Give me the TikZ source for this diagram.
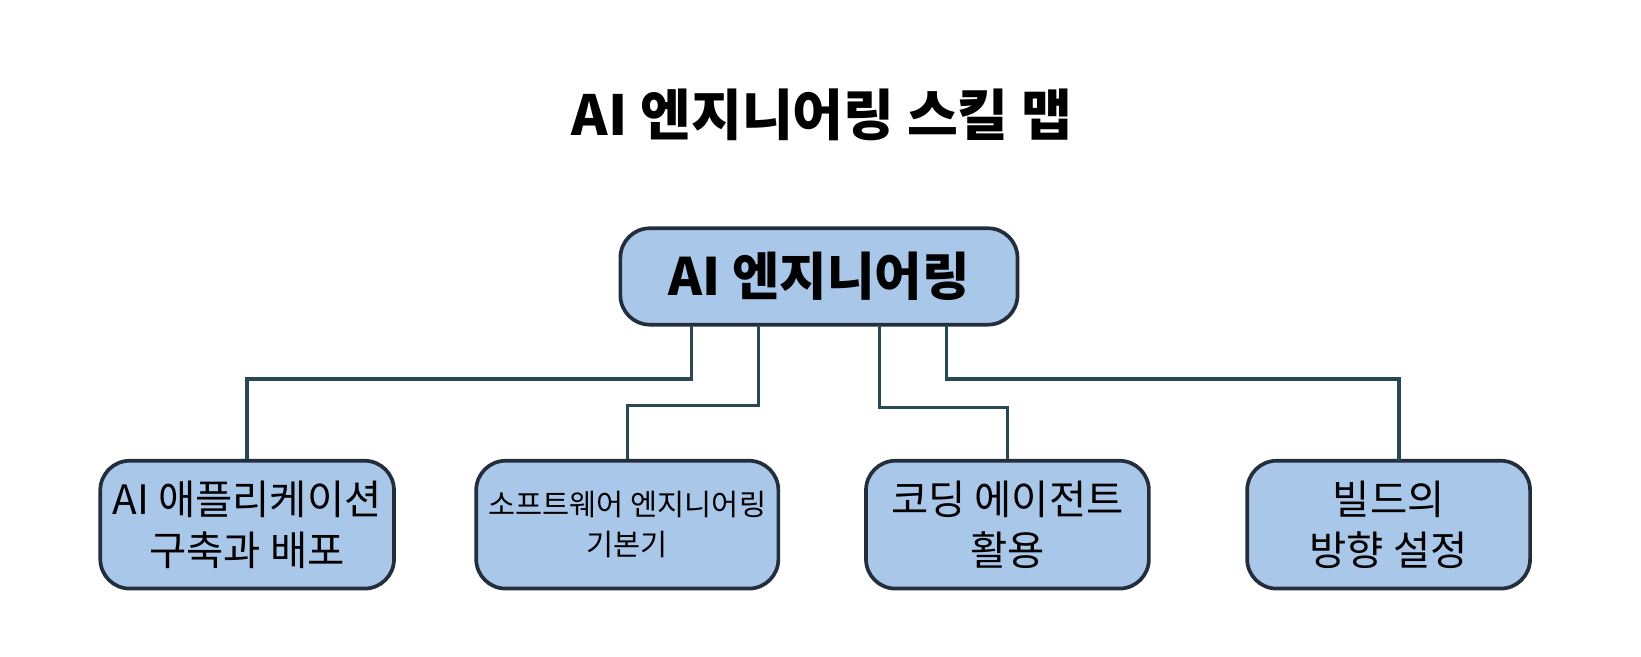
\documentclass[tikz,border=0pt]{standalone}
\usepackage{fontspec}
\setmainfont{Noto Sans CJK KR}
\usetikzlibrary{positioning}

\tikzset{
  skill/.style={draw={rgb,255:red,35;green,45;blue,60}, line width=1pt, rounded corners=8pt,
    fill={rgb,255:red,169;green,199;blue,232},
    minimum width=2.7cm, minimum height=1.22cm, align=center, font=\fontsize{11}{14}\selectfont},
  link/.style={draw={rgb,255:red,40;green,72;blue,82}, line width=0.9pt}
}

\begin{document}
\begin{tikzpicture}[x=0.01cm,y=-0.01cm]
        \node[font=\bfseries\fontsize{15}{18}\selectfont] (title) at (785,110) {AI 엔지니어링 스킬 맵};

        \node[skill, minimum width=3.79cm, minimum height=0.92cm,
          font=\bfseries\fontsize{14}{17}\selectfont] (root) at (782,264) {AI 엔지니어링};

        \node[skill] (app)  at (236,501) {AI 애플리케이션\\구축과 배포};
        \node[skill, font=\fontsize{8}{11}\selectfont] (sw) at (599,501) {소프트웨어 엔지니어링\\기본기};
        \node[skill] (code) at (962,501) {코딩 에이전트\\활용};
        \node[skill] (build) at (1326,501) {빌드의\\방향 설정};

        \coordinate (c1) at (660,310);
        \coordinate (c2) at (724,310);
        \coordinate (c3) at (840,310);
        \coordinate (c4) at (904,310);
        \coordinate (c5) at (1336,440);
        \draw[link] (c1) |- (236,362) -- (app.north);
        \draw[link] (c2) |- (599,387) -- (sw.north);
        \draw[link] (c3) |- (962,389) -- (code.north);
        \draw[link] (c4) |- (1336,362) -- (c5);

        \pgfresetboundingbox
        \useasboundingbox (0,0) rectangle (1567,627);
      \end{tikzpicture}
\end{document}
